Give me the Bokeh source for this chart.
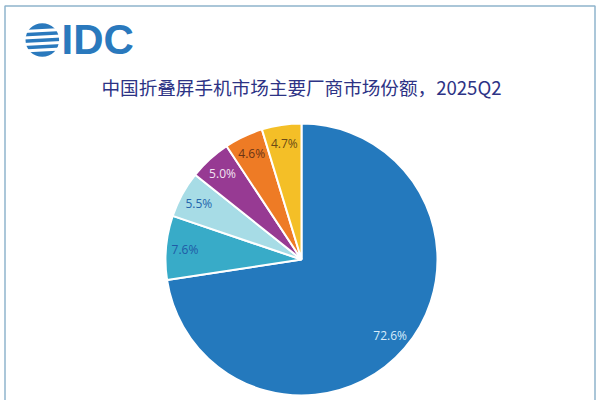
import numpy as np
from bokeh.plotting import figure
from bokeh.models import Range1d, ColumnDataSource
from bokeh.core.properties import value
from bokeh.embed import file_html
from bokeh.resources import INLINE

# ---- data ----
shares = [72.6, 7.6, 5.5, 5.0, 4.6, 4.7]
labels = ["72.6%", "7.6%", "5.5%", "5.0%", "4.6%", "4.7%"]
colors = ["#2479bd", "#38abc8", "#a7dce6", "#973a93", "#ee7b25", "#f4bf27"]
label_colors = ["#d6ecfb", "#1f5aa6", "#2466ad", "#f2e4f2", "#6a3415", "#6b4a16"]
title_text = "中国折叠屏手机市场主要厂商市场份额，2025Q2"

W, H = 600, 400
p = figure(width=W, height=H, output_backend="svg", toolbar_location=None,
           x_range=Range1d(0, W), y_range=Range1d(0, H), min_border=0)
p.axis.visible = False
p.grid.visible = False
p.outline_line_color = None
p.background_fill_color = "white"
p.border_fill_color = "white"

# reference pixel -> data coords
def X(rx):
    return rx
def Y(ry):
    return H - ry

# frame border (decoration)
p.line(x=[X(4.5), X(4.5), X(594.5), X(594.5)], y=[Y(405), Y(5.5), Y(5.5), Y(405)],
       line_color="#8fb4cc", line_width=1.5)

cx, cy, R = X(301), Y(259), 136

vals = np.array(shares, dtype=float)
frac = vals / vals.sum()
cum = np.concatenate([[0], np.cumsum(frac)])
start = np.pi / 2 - 2 * np.pi * cum[:-1]
end = np.pi / 2 - 2 * np.pi * cum[1:]
mid = (start + end) / 2

src = ColumnDataSource(dict(start=start, end=end, color=colors))
p.wedge(x=cx, y=cy, radius=R, start_angle="start", end_angle="end",
        direction="clock", fill_color="color", line_color="white",
        line_width=2, source=src)

lr = 0.86 * R
lsrc = ColumnDataSource(dict(x=cx + lr * np.cos(mid), y=cy + lr * np.sin(mid),
                             t=labels, c=label_colors))
p.text(x="x", y="y", text="t", text_color="c", source=lsrc,
       text_align="center", text_baseline="middle",
       text_font=value("Open Sans"), text_font_size="12px")

# title
p.text(x=[X(301)], y=[Y(86)], text=[title_text], text_align="center",
       text_baseline="middle", text_color="#2d3385",
       text_font=value("Noto Sans CJK SC"), text_font_size="18.6px")

# IDC logo
logo_blue = "#2a79bd"
p.circle(x=[X(41.8)], y=[Y(39.5)], radius=16.8, fill_color=logo_blue, line_color=None)
stripe_y = [Y(30), Y(36.5), Y(43), Y(49.5)]
p.rect(x=[X(41.8)] * 4, y=stripe_y, width=38, height=3.0, angle=0.05,
       fill_color="white", line_color=None)
p.text(x=[X(61)], y=[Y(38.5)], text=["IDC"], text_align="left",
       text_baseline="middle", text_color=logo_blue,
       text_font=value("Liberation Sans"), text_font_style="bold",
       text_font_size="42px")

open("out.html", "w").write(file_html(p, INLINE))
